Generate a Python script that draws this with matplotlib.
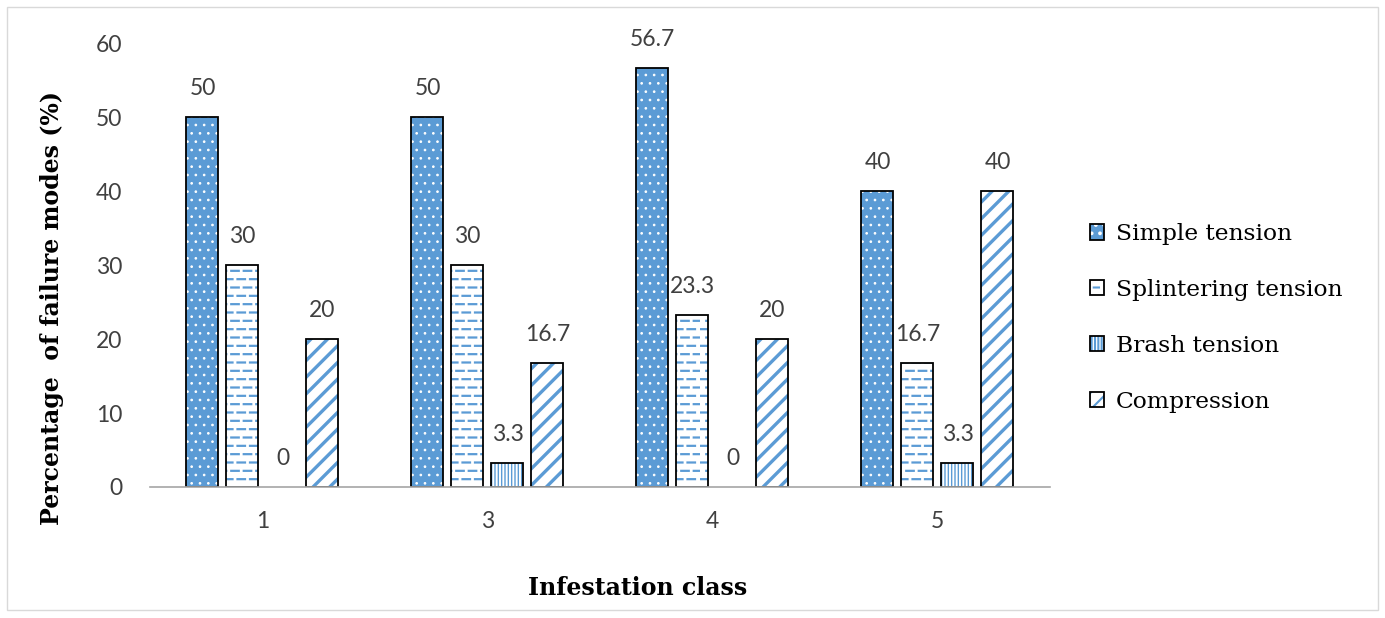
import matplotlib
matplotlib.use("Agg")
import matplotlib.pyplot as plt
from matplotlib.patches import Rectangle
from matplotlib.legend_handler import HandlerTuple
import matplotlib.hatch as mhatch
from matplotlib.path import Path
import numpy as np

categories = ["1", "3", "4", "5"]
series_names = ["Simple tension", "Splintering tension", "Brash tension", "Compression"]
simple_tension = [50, 50, 56.7, 40]
splintering_tension = [30, 30, 23.3, 16.7]
brash_tension = [0, 3.3, 0, 3.3]
compression = [20, 16.7, 20, 40]
yticks = [0, 10, 20, 30, 40, 50, 60]


# dashed horizontal hatch (replaces the solid '-' hatch)
try:
    class DashedHorizontalHatch(mhatch.HatchPatternBase):
        ndash = 8
        frac = 0.6

        def __init__(self, hatch, density):
            self.num_lines = int((hatch.count('-') + hatch.count('+')) * density)
            self.num_vertices = self.num_lines * self.ndash * 2

        def set_vertices_and_codes(self, vertices, codes):
            steps = np.linspace(0.0, 1.0, self.num_lines, endpoint=False)
            steps += 0.5 / self.num_lines
            k = 0
            period = 1.0 / self.ndash
            for j, y in enumerate(steps):
                off = (period / 2) * (j % 2)
                for d in range(self.ndash):
                    x0 = d * period + off
                    vertices[k] = (x0, y)
                    vertices[k + 1] = (x0 + period * self.frac, y)
                    codes[k] = Path.MOVETO
                    codes[k + 1] = Path.LINETO
                    k += 2

    mhatch._hatch_types = [DashedHorizontalHatch if t is mhatch.HorizontalHatch else t
                           for t in mhatch._hatch_types]
except Exception:
    pass

series = [simple_tension, splintering_tension, brash_tension, compression]
blue = "#5B9BD5"
faces = [blue, "white", "white", "white"]
hatch_cols = ["white", blue, blue, blue]
hatches = ["..", "--", "|||||", "//"]
hatch_lws = [0.7, 1.6, 1.0, 2.4]

plt.rcParams["hatch.linewidth"] = 1.5

fig = plt.figure(figsize=(13.85, 6.18), dpi=100)
fig.patches.append(Rectangle((0.005, 0.013), 0.99, 0.975, transform=fig.transFigure,
                             fill=False, edgecolor="#D9D9D9", linewidth=1.0))
ax = fig.add_axes([0.1083, 0.212, 0.6498, 0.718])

x = np.arange(len(categories))
step = 40 / 225
width = 32 / 225
num_font = ["Lato", "DejaVu Sans"]
handles = []
for i, (vals, name) in enumerate(zip(series, series_names)):
    pos = x + (i - 1.5) * step
    bars = ax.bar(pos, vals, width, color=faces[i], edgecolor=hatch_cols[i], hatch=hatches[i], linewidth=0)
    for b in bars:
        if hasattr(b, "set_hatch_linewidth"):
            b.set_hatch_linewidth(hatch_lws[i])
    edge = ["black" if v > 0 else "none" for v in vals]
    ax.bar(pos, vals, width, fill=False, edgecolor=edge, linewidth=1.3)
    h1 = Rectangle((0, 0), 1, 1, facecolor=faces[i], edgecolor=hatch_cols[i], hatch=hatches[i], linewidth=0)
    if hasattr(h1, "set_hatch_linewidth"):
        h1.set_hatch_linewidth(hatch_lws[i])
    h2 = Rectangle((0, 0), 1, 1, fill=False, edgecolor="black", linewidth=1.3)
    handles.append((h1, h2))
    for p, v in zip(pos, vals):
        ax.annotate(f"{v:g}", (p, v), xytext=(0, 13), textcoords="offset points",
                    ha="center", va="bottom", fontsize=16.5, color="#404040", family=num_font)

ax.set_xlim(-0.5, len(categories) - 0.5)
ax.set_ylim(0, 60)
ax.set_yticks(yticks)
ax.set_xticks(x)
ax.set_xticklabels(categories)
for s in ["top", "right", "left"]:
    ax.spines[s].set_visible(False)
ax.spines["bottom"].set_color("#A6A6A6")
ax.spines["bottom"].set_linewidth(1.2)
ax.tick_params(axis="both", length=0, labelsize=16.5, labelcolor="#404040")
ax.tick_params(axis="y", pad=20)
ax.tick_params(axis="x", pad=17)
for t in ax.get_xticklabels() + ax.get_yticklabels():
    t.set_family(num_font)

fig.text(52 / 1385, 1 - 308 / 618, "Percentage  of failure modes (%)", rotation=90,
         ha="center", va="center", fontsize=17, fontweight="bold", family="DejaVu Serif")
fig.text(638 / 1385, 1 - 588 / 618, "Infestation class",
         ha="center", va="center", fontsize=17, fontweight="bold", family="DejaVu Serif")

leg = fig.legend(handles, series_names, loc="center left", bbox_to_anchor=(1090 / 1385, 1 - 318 / 618),
                 frameon=False, prop={"family": "DejaVu Serif", "size": 16.8},
                 handlelength=0.62, handleheight=0.62, handletextpad=0.5, labelspacing=1.45,
                 borderpad=0, borderaxespad=0,
                 handler_map={tuple: HandlerTuple(ndivide=1, pad=0)})

fig.savefig("out.png", dpi=100)
